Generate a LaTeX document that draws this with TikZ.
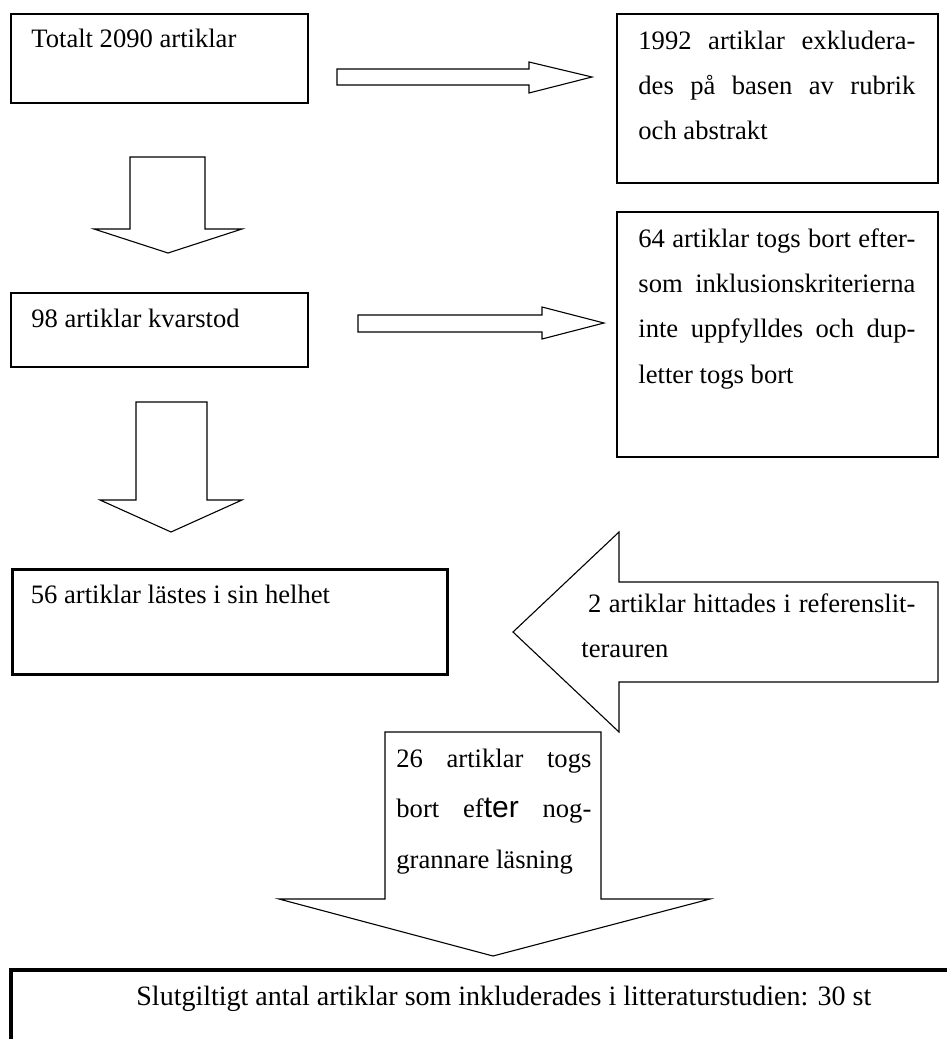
\documentclass[tikz,border=0pt]{standalone}
\usepackage{fontspec}
\setmainfont{Liberation Serif}
\newfontfamily\arialfont{Liberation Sans}
\usetikzlibrary{fit}
\tolerance=9999
\hyphenpenalty=10000

\begin{document}
\begin{tikzpicture}[
    x=0.5pt,
    y=-0.5pt,
    line join=miter,
    box/.style={
        draw,
        line width=1pt,
        inner sep=0pt
    },
    thickbox/.style={
        box,
        line width=1.5pt
    },
    finalbox/.style={
        box,
        line width=2pt
    },
    blockarrow/.style={
        line width=0.55pt
    },
    txt/.style={
        anchor=base west,
        inner sep=0pt,
        font=\fontsize{13.3}{22.7}\selectfont
    },
    para/.style={
        txt,
        text width=#1,
        align=justify
    }
]

% =================================================
% Sidans ram
% =================================================

\useasboundingbox (0,0) rectangle (947,1039);
\clip (0,0) rectangle (947,1039);

% =================================================
% Rutor
% =================================================

\node[box, fit={(11,14) (308,103)}]       (total)  {};
\node[box, fit={(617,14) (938,183)}]      (excl1)  {};
\node[box, fit={(11,293) (308,367)}]      (remain) {};
\node[box, fit={(617,212) (938,457)}]     (excl2)  {};
\node[thickbox, fit={(12,569) (447,674)}] (read)   {};
\node[finalbox, fit={(11,970) (970,1070)}] (final) {};

% =================================================
% Blockpilar
% =================================================

% Totalt -> exkluderade
\draw[blockarrow] (337,69) -- (529,69) -- (529,62) -- (592,77)
    -- (529,93) -- (529,85) -- (337,85) -- cycle;

% Totalt -> kvarstod
\draw[blockarrow] (130,157) -- (205,157) -- (205,229) -- (242,229)
    -- (168,253) -- (94,229) -- (130,229) -- cycle;

% Kvarstod -> borttagna
\draw[blockarrow] (358,315) -- (542,315) -- (542,307) -- (604,323)
    -- (542,339) -- (542,332) -- (358,332) -- cycle;

% Kvarstod -> lästa
\draw[blockarrow] (136,402) -- (207,402) -- (207,500) -- (242,500)
    -- (171,532) -- (100,500) -- (136,500) -- cycle;

% Referenslitteraturen
\draw[blockarrow] (938,582) -- (619,582) -- (619,532) -- (513,632)
    -- (619,732) -- (619,682) -- (938,682) -- cycle;

% Noggrannare läsning -> slutgiltigt
\draw[blockarrow] (385,732) -- (601,732) -- (601,899) -- (710,899)
    -- (493,956) -- (279,899) -- (385,899) -- cycle;

% =================================================
% Texter
% =================================================

\node[txt] (total-txt) at ([shift={(21,34)}]total.north west)
    {Totalt 2090 artiklar};

\node[para=138.5pt] (excl1-txt) at ([shift={(22,36)}]excl1.north west)
    {1992 artiklar exkludera-\linebreak des på basen av rubrik\linebreak och abstrakt};

\node[txt] (remain-txt) at ([shift={(21,35)}]remain.north west)
    {98 artiklar kvarstod};

\node[para=138.5pt] (excl2-txt) at ([shift={(22,36)}]excl2.north west)
    {64 artiklar togs bort efter-\linebreak som inklusionskriterierna\linebreak
     inte uppfylldes och dup-\linebreak letter togs bort};

\node[txt] (read-txt) at ([shift={(20,36)}]read.north west)
    {56 artiklar lästes i sin helhet};

\node[para=167pt] (found-txt) at (581,612)
    {\hspace*{3.3pt}2 artiklar hittades i referenslit-\linebreak terauren};

\node[para=97.5pt, font=\fontsize{13.3}{25.25}\selectfont]
    (removed-txt) at (396,767)
    {26 artiklar togs\linebreak bort ef{\arialfont\fontsize{15}{25.25}\selectfont ter} nog-\linebreak grannare läsning};

\node[txt, font=\fontsize{14}{22.7}\selectfont] (final-txt) at ([shift={(127,37)}]final.north west)
    {Slutgiltigt antal artiklar som inkluderades i litteraturstudien: 30 st};

\end{tikzpicture}
\end{document}
